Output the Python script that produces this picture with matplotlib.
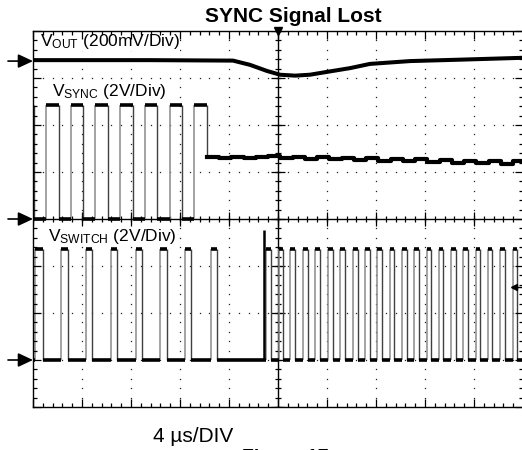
import matplotlib
matplotlib.use("Agg")
import matplotlib.pyplot as plt
import numpy as np

plt.rcParams['font.family'] = ['Liberation Sans', 'DejaVu Sans']
plt.rcParams['mathtext.fontset'] = 'custom'
plt.rcParams['mathtext.rm'] = 'Liberation Sans'

# ---------------- data (time in us, level in scope divisions) ----------------
vout_t = [-20.0, -10.45, -3.67, -2.29, -0.90, 0.16, 1.39, 2.61, 4.0, 5.88, 7.51, 10.78, 14.86, 20.0]
vout_v = [7.38, 7.38, 7.37, 7.28, 7.15, 7.07, 7.05, 7.07, 7.13, 7.21, 7.30, 7.36, 7.39, 7.43]

sync_rise = [-18.95, -16.9, -14.9, -12.9, -10.85, -8.85, -6.85]
sync_fall = [-19.9, -17.9, -15.9, -13.9, -11.85, -9.85, -7.85, -5.8]
sync_hi = 6.43
sync_lo = 4.0
sync_tail_t = [-5.8, -4.8, -3.8, -2.8, -1.8, -0.8, 0.2, 1.2, 2.2, 3.2, 4.2, 5.2, 6.2,
               7.2, 8.2, 9.2, 10.2, 11.2, 12.2, 13.2, 14.2, 15.2, 16.2, 17.2, 18.2, 19.2]
sync_tail_v = [5.32, 5.30, 5.32, 5.30, 5.32, 5.33, 5.30, 5.32, 5.27, 5.31, 5.27, 5.30, 5.25,
               5.29, 5.23, 5.28, 5.23, 5.27, 5.22, 5.26, 5.19, 5.24, 5.19, 5.24, 5.18, 5.23]

sw_rise = [-19.85, -17.7, -15.67, -13.63, -11.6, -9.63, -7.6, -5.47,
           -0.98, 0.08, 0.98, 2.04, 3.02, 4.08, 5.06, 6.12, 7.10, 8.08, 9.14, 10.12,
           11.10, 12.16, 13.14, 14.12, 15.10, 16.16, 17.14, 18.12, 19.18]
sw_fall = [-19.18, -17.14, -15.18, -13.14, -11.1, -9.06, -7.1, -4.98,
           -0.57, 0.41, 1.36, 2.45, 3.39, 4.45, 5.43, 6.5, 7.47, 8.45, 9.5, 10.49,
           11.47, 12.53, 13.51, 14.49, 15.47, 16.53, 17.51, 18.49, 19.55]
sw_hi = 3.36
sw_lo = 1.0
sw_spike_t = -1.14
sw_spike_v = 3.77

gnd_levels = [7.36, 4.0, 1.0]
trig_level = 2.55

# ---------------- figure ----------------
W, H = 522, 450
fig = plt.figure(figsize=(W / 100, H / 100), dpi=100)
ax = fig.add_axes([33 / W, 43 / H, 490 / W, 376 / H])
ax.set_xlim(-20, 20)
ax.set_ylim(0, 8)
ax.set_axisbelow(False)

ax.set_xticks(np.arange(-20, 20.1, 4))
ax.set_xticks(np.arange(-20, 20.1, 0.8), minor=True)
ax.set_yticks(np.arange(0, 8.1, 1))
ax.set_yticks(np.arange(0, 8.01, 0.2), minor=True)
ax.tick_params(which='both', direction='in', top=True, right=True,
               labelbottom=False, labelleft=False, color='k', width=0.9)
ax.tick_params(which='major', length=5.5)
ax.tick_params(which='minor', length=3.2)
ax.xaxis.set_zorder(5)
ax.yaxis.set_zorder(5)
for s in ax.spines.values():
    s.set_linewidth(1.0)
    s.set_zorder(5)

# dotted graticule
xm = np.arange(-20, 20.01, 0.8)
ym = np.arange(0, 8.01, 0.2)
for yv in [1, 2, 3, 5, 6, 7]:
    ax.plot(xm, [yv] * len(xm), ls='none', marker='s', ms=0.9, mew=0, color='#222', zorder=1)
for xv in [-16, -12, -8, -4, 4, 8, 12, 16]:
    ax.plot([xv] * len(ym), ym, ls='none', marker='s', ms=0.9, mew=0, color='#222', zorder=1)

# center crosshair with ticks
ax.axhline(4, color='k', lw=1.0, zorder=1.2)
ax.axvline(0, color='k', lw=1.0, zorder=1.2)
ax.plot(xm, [4] * len(xm), ls='none', marker='|', ms=5, mew=0.9, color='k', zorder=1.2)
ax.plot(np.arange(-20, 20.1, 4), [4] * 11, ls='none', marker='|', ms=10, mew=0.9, color='k', zorder=1.2)
ax.plot([0] * len(ym), ym, ls='none', marker='_', ms=5, mew=0.9, color='k', zorder=1.2)
ax.plot([0] * 9, np.arange(0, 8.1, 1), ls='none', marker='_', ms=10, mew=0.9, color='k', zorder=1.2)

LW = 2.6
EDGE_R = '#8a8a8a'
EDGE_F = '#404040'

# VOUT
ax.plot(vout_t, vout_v, color='k', lw=2.9, solid_capstyle='butt', zorder=3)

# VSYNC
ax.hlines(sync_hi, -20, sync_fall[0], color='k', lw=LW, zorder=3)
for i, r in enumerate(sync_rise):
    ax.hlines(sync_lo, sync_fall[i], r, color='k', lw=LW, zorder=3)
    ax.hlines(sync_hi, r, sync_fall[i + 1], color='k', lw=LW, zorder=3)
    ax.vlines(r, sync_lo, sync_hi, color=EDGE_R, lw=1.1, zorder=2.8)
for f in sync_fall[:-1]:
    ax.vlines(f, sync_lo, sync_hi, color=EDGE_F, lw=1.0, zorder=2.8)
ax.vlines(sync_fall[-1], sync_tail_v[0], sync_hi, color=EDGE_F, lw=1.0, zorder=2.8)
ax.step(sync_tail_t + [20.0], sync_tail_v + [sync_tail_v[-1]], where='post',
        color='k', lw=3.0, zorder=3)

# VSWITCH
ax.hlines(sw_lo, -20, sw_rise[0], color='k', lw=LW, zorder=3)
for i, (r, f) in enumerate(zip(sw_rise, sw_fall)):
    ax.hlines(sw_hi, r, f, color='k', lw=LW, zorder=3)
    ax.vlines(r, sw_lo, sw_hi, color=EDGE_R, lw=1.1, zorder=2.8)
    ax.vlines(f, sw_lo, sw_hi, color=EDGE_F, lw=1.0, zorder=2.8)
    nxt = sw_rise[i + 1] if i + 1 < len(sw_rise) else 20.0
    ax.hlines(sw_lo, f, nxt, color='k', lw=LW, zorder=3)
ax.vlines(sw_spike_t, sw_lo, sw_spike_v, color='k', lw=1.8, zorder=3)

# ground reference arrows on the left
for g in gnd_levels:
    ax.annotate('', xy=(-20, g), xycoords='data',
                xytext=(8, g), textcoords=('figure pixels', 'data'),
                arrowprops=dict(arrowstyle='-|>,head_length=0.6,head_width=0.28',
                                mutation_scale=15, lw=1.2, color='k',
                                shrinkA=0, shrinkB=0),
                annotation_clip=False)

# trigger markers
ax.plot([0], [8], marker='v', ms=6, color='k', clip_on=False, zorder=6)
ax.plot([19.3], [trig_level], marker='<', ms=4.5, color='k', zorder=4)
ax.plot([19.3, 20], [trig_level, trig_level], color='k', lw=1.0, zorder=4)

# channel labels
lab_kw = dict(fontsize=12.5, va='baseline', ha='left', zorder=2,
              bbox=dict(facecolor='white', edgecolor='none', pad=0.0))
ax.text(-19.43, 7.69, r'$\mathrm{V_{OUT}}$ (200mV/Div)', **lab_kw)
ax.text(-18.45, 6.62, r'$\mathrm{V_{SYNC}}$ (2V/Div)', **lab_kw)
ax.text(-18.78, 3.53, r'$\mathrm{V_{SWITCH}}$ (2V/Div)', **lab_kw)

# title and footer texts
fig.text(293 / W, 1 - 22 / H, 'SYNC Signal Lost', fontsize=15, fontweight='bold',
         ha='center', va='baseline')
fig.text(153 / W, 1 - 442 / H, '4 µs/DIV', fontsize=15, ha='left', va='baseline')
fig.text(242 / W, 1 - 462 / H, 'Figure 17', fontsize=14, fontweight='bold',
         ha='left', va='baseline')

fig.savefig('out.png', dpi=100)
